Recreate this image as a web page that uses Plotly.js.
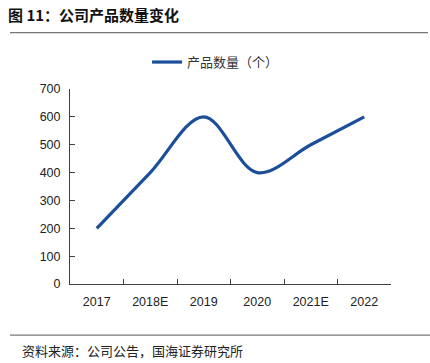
<!DOCTYPE html>
<html>
<head>
<meta charset="utf-8">
<script src="https://cdn.plot.ly/plotly-3.0.1.min.js"></script>
<style>html,body{margin:0;padding:0;background:#fff;}#chart{width:430px;height:363px;}</style>
</head>
<body>
<div id="chart"></div>
<script>
const categories = ["2017", "2018E", "2019", "2020", "2021E", "2022"];
const productCount = [200, 400, 600, 400, 500, 600];
const seriesName = "产品数量（个）";
const yTicks = [0, 100, 200, 300, 400, 500, 600, 700];
const chartTitle = "图 11：公司产品数量变化";
const sourceText = "资料来源：公司公告，国海证券研究所";

const axisColor = "#404040";
const latinFont = "Liberation Sans, Arial, sans-serif";
const cjkFont = "Noto Sans CJK SC, sans-serif";

const trace = {
  type: "scatter",
  mode: "lines",
  x: categories,
  y: productCount,
  name: seriesName,
  line: {color: "#1B4F9A", width: 3.2, shape: "spline", smoothing: 1},
  showlegend: true
};

const layout = {
  width: 430, height: 363,
  margin: {l: 70, r: 39, t: 89, b: 79},
  paper_bgcolor: "#fff", plot_bgcolor: "#fff",
  showlegend: true,
  legend: {
    orientation: "h", x: 0.24, xanchor: "left", y: 1.215, yanchor: "top",
    font: {family: cjkFont, size: 13, color: "#333"},
    bgcolor: "rgba(0,0,0,0)"
  },
  xaxis: {
    type: "category",
    range: [-0.5, categories.length - 0.5],
    showline: true, linecolor: axisColor, linewidth: 1,
    ticks: "inside", ticklen: 5, tickcolor: axisColor, tickson: "boundaries",
    showgrid: false, zeroline: false,
    tickfont: {family: latinFont, size: 12.5, color: "#222"},
    ticklabelstandoff: 6,
    fixedrange: true
  },
  yaxis: {
    range: [0, 700],
    tickvals: yTicks,
    showline: true, linecolor: axisColor, linewidth: 1,
    ticks: "inside", ticklen: 5, tickcolor: axisColor,
    showgrid: false, zeroline: false,
    tickfont: {family: latinFont, size: 12.5, color: "#222"},
    ticklabelstandoff: 6,
    fixedrange: true
  },
  annotations: [
    {text: "<b>" + chartTitle + "</b>", xref: "paper", yref: "paper",
     x: (6 - 70) / 321, xanchor: "left", y: (284.3 - 15) / 195, yanchor: "middle",
     showarrow: false, font: {family: cjkFont, size: 15, color: "#111"}},
    {text: sourceText, xref: "paper", yref: "paper",
     x: (20 - 70) / 321, xanchor: "left", y: (284.3 - 351) / 195, yanchor: "middle",
     showarrow: false, font: {family: cjkFont, size: 13, color: "#222"}}
  ],
  shapes: [
    {type: "line", xref: "paper", yref: "paper",
     x0: (10 - 70) / 321, x1: (428 - 70) / 321, y0: (284.3 - 33) / 195, y1: (284.3 - 33) / 195,
     line: {color: "#777", width: 1.2}},
    {type: "line", xref: "paper", yref: "paper",
     x0: (10 - 70) / 321, x1: (430 - 70) / 321, y0: (284.3 - 335.5) / 195, y1: (284.3 - 335.5) / 195,
     line: {color: "#777", width: 1.2}}
  ]
};

Plotly.newPlot("chart", [trace], layout, {displayModeBar: false, staticPlot: true});
</script>
</body>
</html>
